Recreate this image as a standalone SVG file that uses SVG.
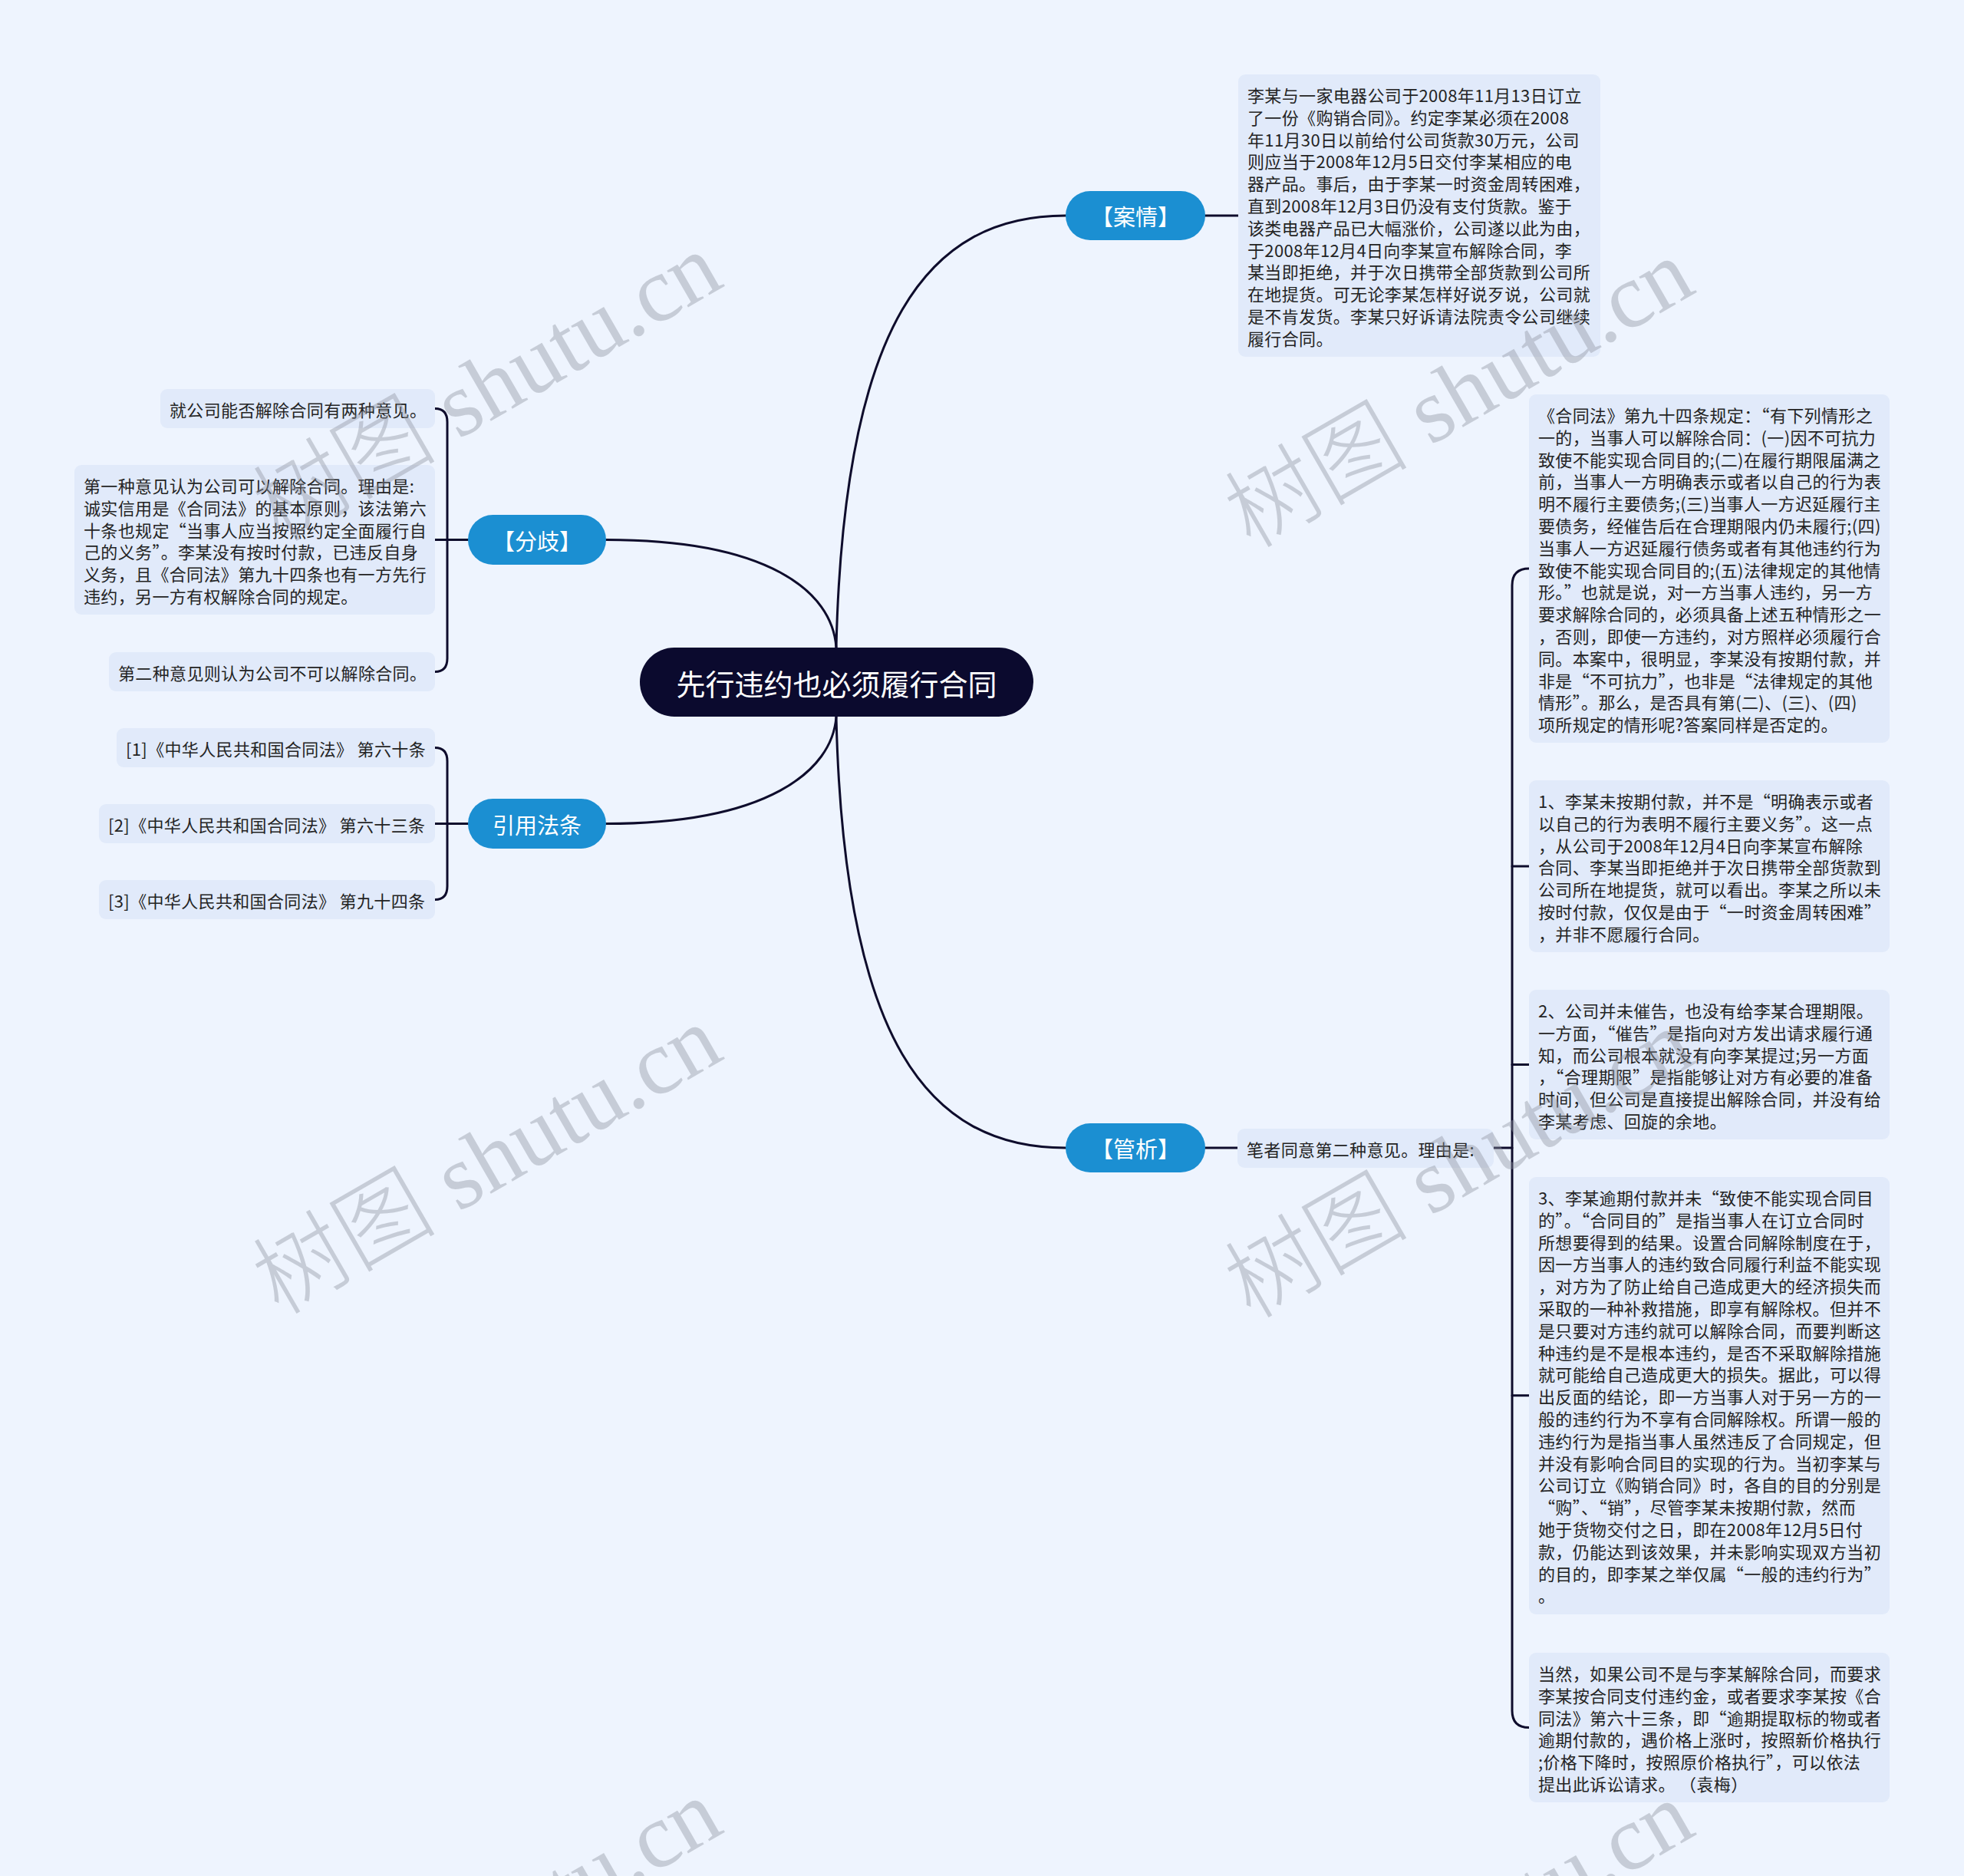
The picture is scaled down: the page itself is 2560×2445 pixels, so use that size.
<svg xmlns="http://www.w3.org/2000/svg" width="2560" height="2445" viewBox="0 0 2560 2445">
<style>
.leaf rect{fill:#e1eafa;}
.leaf text{font-family:"Noto Sans CJK SC","Liberation Sans",sans-serif;font-size:22px;letter-spacing:0.35px;fill:#242424;}
.branch rect{fill:#1b8fd2;}
.branch text{font-family:"Noto Sans CJK SC","Liberation Sans",sans-serif;font-size:29px;fill:#ffffff;text-anchor:middle;dominant-baseline:central;}
.root rect{fill:#0b0a2e;}
.root text{font-family:"Noto Sans CJK SC","Liberation Sans",sans-serif;font-size:38px;fill:#ffffff;text-anchor:middle;dominant-baseline:central;}
.conn path{fill:none;stroke:#0e0c2c;stroke-width:3;stroke-linecap:round;}
.wm text{font-family:"Liberation Serif","Noto Sans CJK SC",serif;font-size:120px;font-weight:300;fill:#8d939f;opacity:0.4;text-anchor:middle;}
</style>
<rect x="0" y="0" width="2560" height="2445" fill="#eef4fe"/>
<g id="connectors" class="conn">
<path d="M1090,844 C1100,420 1210,281 1389,281"/>
<path d="M1090,934 C1100,1358 1210,1496 1389,1496"/>
<path d="M1090,844 C1085,770 1000,703.5 790,703.5"/>
<path d="M1090,934 C1085,1005 1000,1073.5 790,1073.5"/>
<path d="M1571,281 H1614"/>
<path d="M1571,1496 H1613"/>
<path d="M1947,1496 H1971"/>
<path d="M1993,741 Q1971,741 1971,763 V2229.5 Q1971,2251.5 1993,2251.5"/>
<path d="M1971,1129 H1993"/>
<path d="M1971,1387.5 H1993"/>
<path d="M1971,1818.7 H1993"/>
<path d="M610,703.5 H567"/>
<path d="M567,532.5 Q583,532.5 583,550 V858 Q583,875.5 567,875.5"/>
<path d="M610,1073.5 H567"/>
<path d="M567,974.5 Q583,974.5 583,992 V1155 Q583,1172.5 567,1172.5"/>
</g>
<g id="root" class="root">
<rect x="834" y="844" width="513" height="90" rx="45"/>
<text x="1090.5" y="889">先行违约也必须履行合同</text>
</g>
<g id="branch-anqing" class="branch">
<rect x="1389" y="249" width="182" height="64" rx="32"/>
<text x="1480" y="281">【案情】</text>
</g>
<g id="branch-guanxi" class="branch">
<rect x="1389" y="1464" width="182" height="64" rx="32"/>
<text x="1480" y="1496">【管析】</text>
</g>
<g id="branch-fenqi" class="branch">
<rect x="610" y="671" width="180" height="65" rx="32.5"/>
<text x="700" y="703.5">【分歧】</text>
</g>
<g id="branch-yinyong" class="branch">
<rect x="610" y="1041" width="180" height="65" rx="32.5"/>
<text x="700" y="1073.5">引用法条</text>
</g>
<g id="leaf-case" class="leaf">
<rect x="1614" y="97" width="472" height="368" rx="9"/>
<text x="1626" y="133">李某与一家电器公司于2008年11月13日订立</text>
<text x="1626" y="161.8">了一份《购销合同》。约定李某必须在2008</text>
<text x="1626" y="190.6">年11月30日以前给付公司货款30万元，公司</text>
<text x="1626" y="219.4">则应当于2008年12月5日交付李某相应的电</text>
<text x="1626" y="248.2">器产品。事后，由于李某一时资金周转困难，</text>
<text x="1626" y="277">直到2008年12月3日仍没有支付货款。鉴于</text>
<text x="1626" y="305.8">该类电器产品已大幅涨价，公司遂以此为由，</text>
<text x="1626" y="334.6">于2008年12月4日向李某宣布解除合同，李</text>
<text x="1626" y="363.4">某当即拒绝，并于次日携带全部货款到公司所</text>
<text x="1626" y="392.2">在地提货。可无论李某怎样好说歹说，公司就</text>
<text x="1626" y="421">是不肯发货。李某只好诉请法院责令公司继续</text>
<text x="1626" y="449.8">履行合同。</text>
</g>
<g id="leaf-reason" class="leaf">
<rect x="1613" y="1471" width="334" height="51" rx="9"/>
<text x="1625" y="1507">笔者同意第二种意见。理由是:</text>
</g>
<g id="leaf-art94" class="leaf">
<rect x="1993" y="514" width="470" height="454" rx="9"/>
<text x="2005" y="550">《合同法》第九十四条规定：“有下列情形之</text>
<text x="2005" y="578.8">一的，当事人可以解除合同：(一)因不可抗力</text>
<text x="2005" y="607.6">致使不能实现合同目的;(二)在履行期限届满之</text>
<text x="2005" y="636.4">前，当事人一方明确表示或者以自己的行为表</text>
<text x="2005" y="665.2">明不履行主要债务;(三)当事人一方迟延履行主</text>
<text x="2005" y="694">要债务，经催告后在合理期限内仍未履行;(四)</text>
<text x="2005" y="722.8">当事人一方迟延履行债务或者有其他违约行为</text>
<text x="2005" y="751.6">致使不能实现合同目的;(五)法律规定的其他情</text>
<text x="2005" y="780.4">形。”也就是说，对一方当事人违约，另一方</text>
<text x="2005" y="809.2">要求解除合同的，必须具备上述五种情形之一</text>
<text x="2005" y="838">，否则，即使一方违约，对方照样必须履行合</text>
<text x="2005" y="866.8">同。本案中，很明显，李某没有按期付款，并</text>
<text x="2005" y="895.6">非是“不可抗力”，也非是“法律规定的其他</text>
<text x="2005" y="924.4">情形”。那么，是否具有第(二)、(三)、(四)</text>
<text x="2005" y="953.2">项所规定的情形呢?答案同样是否定的。</text>
</g>
<g id="leaf-point1" class="leaf">
<rect x="1993" y="1017" width="470" height="224" rx="9"/>
<text x="2005" y="1053">1、李某未按期付款，并不是“明确表示或者</text>
<text x="2005" y="1081.8">以自己的行为表明不履行主要义务”。这一点</text>
<text x="2005" y="1110.6">，从公司于2008年12月4日向李某宣布解除</text>
<text x="2005" y="1139.4">合同、李某当即拒绝并于次日携带全部货款到</text>
<text x="2005" y="1168.2">公司所在地提货，就可以看出。李某之所以未</text>
<text x="2005" y="1197">按时付款，仅仅是由于“一时资金周转困难”</text>
<text x="2005" y="1225.8">，并非不愿履行合同。</text>
</g>
<g id="leaf-point2" class="leaf">
<rect x="1993" y="1290" width="470" height="195" rx="9"/>
<text x="2005" y="1326">2、公司并未催告，也没有给李某合理期限。</text>
<text x="2005" y="1354.8">一方面，“催告”是指向对方发出请求履行通</text>
<text x="2005" y="1383.6">知，而公司根本就没有向李某提过;另一方面</text>
<text x="2005" y="1412.4">，“合理期限”是指能够让对方有必要的准备</text>
<text x="2005" y="1441.2">时间，但公司是直接提出解除合同，并没有给</text>
<text x="2005" y="1470">李某考虑、回旋的余地。</text>
</g>
<g id="leaf-point3" class="leaf">
<rect x="1993" y="1534" width="470" height="570" rx="9"/>
<text x="2005" y="1570">3、李某逾期付款并未“致使不能实现合同目</text>
<text x="2005" y="1598.8">的”。“合同目的”是指当事人在订立合同时</text>
<text x="2005" y="1627.6">所想要得到的结果。设置合同解除制度在于，</text>
<text x="2005" y="1656.4">因一方当事人的违约致合同履行利益不能实现</text>
<text x="2005" y="1685.2">，对方为了防止给自己造成更大的经济损失而</text>
<text x="2005" y="1714">采取的一种补救措施，即享有解除权。但并不</text>
<text x="2005" y="1742.8">是只要对方违约就可以解除合同，而要判断这</text>
<text x="2005" y="1771.6">种违约是不是根本违约，是否不采取解除措施</text>
<text x="2005" y="1800.4">就可能给自己造成更大的损失。据此，可以得</text>
<text x="2005" y="1829.2">出反面的结论，即一方当事人对于另一方的一</text>
<text x="2005" y="1858">般的违约行为不享有合同解除权。所谓一般的</text>
<text x="2005" y="1886.8">违约行为是指当事人虽然违反了合同规定，但</text>
<text x="2005" y="1915.6">并没有影响合同目的实现的行为。当初李某与</text>
<text x="2005" y="1944.4">公司订立《购销合同》时，各自的目的分别是</text>
<text x="2005" y="1973.2">“购”、“销”，尽管李某未按期付款，然而</text>
<text x="2005" y="2002">她于货物交付之日，即在2008年12月5日付</text>
<text x="2005" y="2030.8">款，仍能达到该效果，并未影响实现双方当初</text>
<text x="2005" y="2059.6">的目的，即李某之举仅属“一般的违约行为”</text>
<text x="2005" y="2088.4">。</text>
</g>
<g id="leaf-point4" class="leaf">
<rect x="1993" y="2154" width="470" height="195" rx="9"/>
<text x="2005" y="2190">当然，如果公司不是与李某解除合同，而要求</text>
<text x="2005" y="2218.8">李某按合同支付违约金，或者要求李某按《合</text>
<text x="2005" y="2247.6">同法》第六十三条，即“逾期提取标的物或者</text>
<text x="2005" y="2276.4">逾期付款的，遇价格上涨时，按照新价格执行</text>
<text x="2005" y="2305.2">;价格下降时，按照原价格执行”，可以依法</text>
<text x="2005" y="2334">提出此诉讼请求。 （袁梅）</text>
</g>
<g id="leaf-opinions" class="leaf">
<rect x="209" y="507" width="358" height="51" rx="9"/>
<text x="221" y="543">就公司能否解除合同有两种意见。</text>
</g>
<g id="leaf-opinion1" class="leaf">
<rect x="97" y="606" width="470" height="195" rx="9"/>
<text x="109" y="642">第一种意见认为公司可以解除合同。理由是:</text>
<text x="109" y="670.8">诚实信用是《合同法》的基本原则，该法第六</text>
<text x="109" y="699.6">十条也规定“当事人应当按照约定全面履行自</text>
<text x="109" y="728.4">己的义务”。李某没有按时付款，已违反自身</text>
<text x="109" y="757.2">义务，且《合同法》第九十四条也有一方先行</text>
<text x="109" y="786">违约，另一方有权解除合同的规定。</text>
</g>
<g id="leaf-opinion2" class="leaf">
<rect x="142" y="850" width="425" height="51" rx="9"/>
<text x="154" y="886">第二种意见则认为公司不可以解除合同。</text>
</g>
<g id="leaf-law1" class="leaf">
<rect x="152" y="949" width="415" height="51" rx="9"/>
<text x="164" y="985">[1]《中华人民共和国合同法》 第六十条</text>
</g>
<g id="leaf-law2" class="leaf">
<rect x="129" y="1048" width="438" height="51" rx="9"/>
<text x="141" y="1084">[2]《中华人民共和国合同法》 第六十三条</text>
</g>
<g id="leaf-law3" class="leaf">
<rect x="129" y="1147" width="438" height="51" rx="9"/>
<text x="141" y="1183">[3]《中华人民共和国合同法》 第九十四条</text>
</g>
<g id="watermark" class="wm">
<text transform="translate(655,540) rotate(-30)">树图 shutu.cn</text>
<text transform="translate(1922,548) rotate(-30)">树图 shutu.cn</text>
<text transform="translate(655,1547) rotate(-30)">树图 shutu.cn</text>
<text transform="translate(1922,1552) rotate(-30)">树图 shutu.cn</text>
<text transform="translate(655,2555) rotate(-30)">树图 shutu.cn</text>
<text transform="translate(1922,2558) rotate(-30)">树图 shutu.cn</text>
</g>
</svg>
